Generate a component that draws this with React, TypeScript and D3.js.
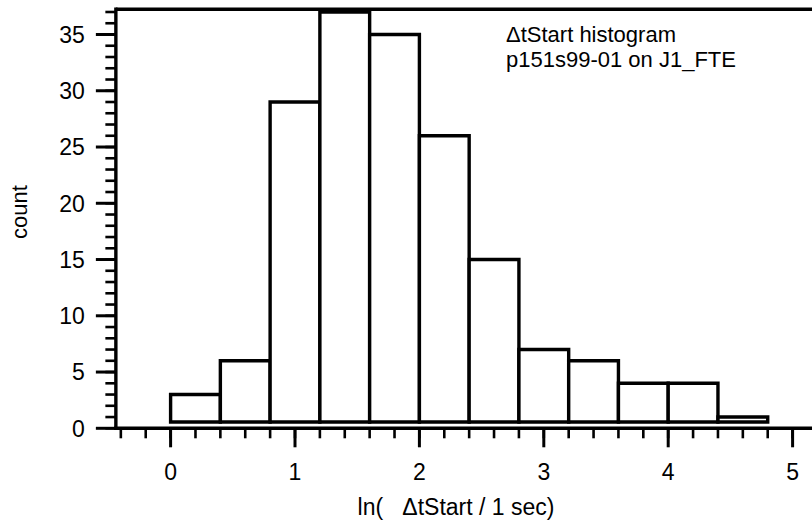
import React from "react";
import * as d3 from "d3";

const binStarts = [0, 0.4, 0.8, 1.2, 1.6, 2.0, 2.4, 2.8, 3.2, 3.6, 4.0, 4.4];
const binWidth = 0.4;
const counts = [3, 6, 29, 37, 35, 26, 15, 7, 6, 4, 4, 1];
const xTickValues = [0, 1, 2, 3, 4, 5];
const yTickValues = [0, 5, 10, 15, 20, 25, 30, 35];
const annotation = ["\u0394tStart histogram", "p151s99-01 on J1_FTE"];
const xTitle = "ln(   \u0394tStart / 1 sec)";
const yTitle = "count";

const W = 812;
const H = 522;
const FONT = "'Liberation Sans', Arial, Helvetica, sans-serif";

export default function App() {
  const x = d3.scaleLinear().domain([0, 5]).range([170.6, 792.6]);
  const y = d3.scaleLinear().domain([0, 35]).range([428.3, 34.5]);
  const left = x(-0.44);
  const right = W + 20;
  const top = y(37.25);
  const bottom = y(0);
  const barBase = bottom - 6.3;

  const xMinor = d3.range(-0.4, 5.21, 0.2).map((v) => Math.round(v * 10) / 10);
  const yMinor = d3.range(0, 38, 1);

  return (
    <svg
      width={W}
      height={H}
      style={{ position: "absolute", left: 0, top: 0, background: "#fff" }}
      fontFamily={FONT}
    >
      <rect x={0} y={0} width={W} height={H} fill="#fff" />
      {/* bars */}
      {counts.map((c, i) => {
        const x0 = x(binStarts[i]);
        const x1 = x(binStarts[i] + binWidth);
        const yt = y(c);
        return (
          <path
            key={i}
            d={`M${x0},${barBase}V${yt}H${x1}V${barBase}Z`}
            fill="#fff"
            stroke="#000"
            strokeWidth={3.4}
            strokeLinejoin="miter"
          />
        );
      })}
      {/* frame */}
      <line x1={left} x2={right} y1={top} y2={top} stroke="#000" strokeWidth={3.4} />
      <line x1={left} x2={left} y1={top - 1.7} y2={bottom + 1.7} stroke="#000" strokeWidth={3.4} />
      <line x1={left - 1.7} x2={right} y1={bottom} y2={bottom} stroke="#000" strokeWidth={3.6} />
      {/* y ticks */}
      {yMinor.map((v) => (
        <line key={"ym" + v} x1={left - 10.5} x2={left} y1={y(v)} y2={y(v)} stroke="#000" strokeWidth={2.6} />
      ))}
      {yTickValues.map((v) => (
        <g key={"yt" + v}>
          <line x1={left - 20} x2={left} y1={y(v)} y2={y(v)} stroke="#000" strokeWidth={3} />
          <text x={left - 31} y={y(v)} dy="0.36em" textAnchor="end" fontSize={23} fill="#000">
            {v}
          </text>
        </g>
      ))}
      {/* x ticks */}
      {xMinor.map((v) => (
        <line key={"xm" + v} x1={x(v)} x2={x(v)} y1={bottom} y2={bottom + 10} stroke="#000" strokeWidth={2.6} />
      ))}
      {xTickValues.map((v) => (
        <g key={"xt" + v}>
          <line x1={x(v)} x2={x(v)} y1={bottom} y2={bottom + 19} stroke="#000" strokeWidth={3} />
          <text x={x(v)} y={bottom + 52} textAnchor="middle" fontSize={23} fill="#000">
            {v}
          </text>
        </g>
      ))}
      {/* axis titles */}
      <text x={456} y={515} textAnchor="middle" fontSize={23} fill="#000" style={{ whiteSpace: "pre" }}>
        {xTitle}
      </text>
      <text
        transform={`translate(27,${212}) rotate(-90)`}
        textAnchor="middle"
        fontSize={22}
        fill="#000"
      >
        {yTitle}
      </text>
      {/* annotation */}
      {annotation.map((t, i) => (
        <text key={i} x={506} y={42 + i * 25} fontSize={22} fill="#000">
          {t}
        </text>
      ))}
    </svg>
  );
}
